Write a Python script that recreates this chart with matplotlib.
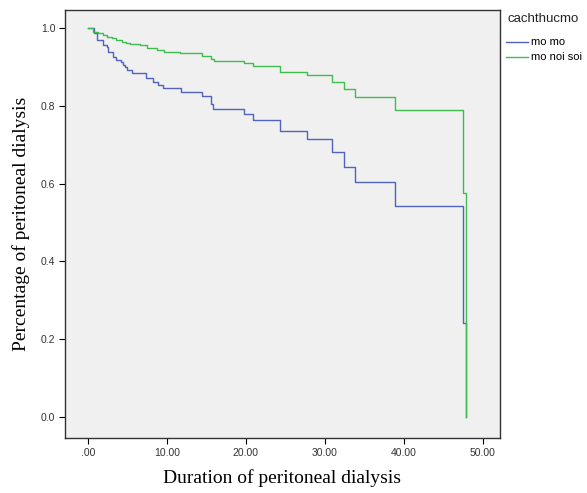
import matplotlib
matplotlib.use('Agg')
import matplotlib.pyplot as plt
from matplotlib.lines import Line2D

# Tiempos de los escalones (meses) y supervivencia tras cada caída
t_momo = [0.0, 0.8, 1.1, 1.9, 2.4, 2.55, 3.15, 3.6, 4.25, 4.45, 4.7, 4.9, 5.65,
          7.4, 8.25, 8.85, 9.55, 11.8, 14.45, 15.6, 15.9, 19.75, 20.9, 24.4,
          27.7, 30.9, 32.4, 33.9, 38.9, 47.5, 47.85]
s_momo = [1.0, 0.986, 0.969, 0.956, 0.952, 0.939, 0.926, 0.918, 0.913, 0.905,
          0.900, 0.893, 0.885, 0.871, 0.862, 0.853, 0.845, 0.836, 0.826, 0.805,
          0.792, 0.779, 0.763, 0.735, 0.714, 0.680, 0.643, 0.605, 0.543, 0.241, 0.0]

t_noisoi = [0.0, 0.7, 1.3, 1.95, 2.4, 3.0, 3.6, 4.3, 4.8, 5.3, 6.6, 7.45, 8.7,
            9.6, 11.7, 14.45, 15.55, 15.95, 19.75, 20.9, 24.4, 27.7, 30.9,
            32.4, 33.9, 38.9, 47.5, 47.85]
s_noisoi = [1.0, 0.990, 0.986, 0.982, 0.978, 0.974, 0.969, 0.965, 0.961, 0.958,
            0.956, 0.948, 0.943, 0.939, 0.935, 0.929, 0.920, 0.914, 0.909,
            0.902, 0.888, 0.878, 0.862, 0.843, 0.823, 0.789, 0.575, 0.0]

grupos = ['mo mo', 'mo noi soi']
colores = ['#4f63bf', '#3fbd4f']

xticks = [0, 10, 20, 30, 40, 50]
xlabels = ['.00', '10.00', '20.00', '30.00', '40.00', '50.00']
yticks = [0.0, 0.2, 0.4, 0.6, 0.8, 1.0]

fig = plt.figure(figsize=(5.87, 4.93), dpi=100)
ax = fig.add_axes([0.1107, 0.1116, 0.741, 0.868])
ax.set_facecolor('#f0f0f0')

ax.step(t_momo, s_momo, where='post', color=colores[0], lw=1.0)
ax.step(t_noisoi, s_noisoi, where='post', color=colores[1], lw=1.0)

ax.set_xlim(-2.9, 52.2)
ax.set_ylim(-0.054, 1.046)
ax.set_xticks(xticks)
ax.set_xticklabels(xlabels)
ax.set_yticks(yticks)
ax.set_yticklabels(['%.1f' % v for v in yticks])
ax.tick_params(labelsize=7.5, labelcolor='#333333', length=4, width=0.8,
               direction='out', pad=3, labelfontfamily='Liberation Sans')
for sp in ax.spines.values():
    sp.set_color('#333333')
    sp.set_linewidth(1.0)

ax.set_xlabel('Duration of peritoneal dialysis', fontsize=14,
              family='Liberation Serif', labelpad=8)
ax.set_ylabel('Percentage of peritoneal dialysis', fontsize=14,
              family='Liberation Serif', labelpad=8)

# Leyenda a la derecha
fig.text(0.864, 0.962, 'cachthucmo', fontsize=9.5, family='Liberation Sans',
         color='#222222', va='center')
handles = [Line2D([], [], color=c, lw=1.0) for c in colores]
fig.legend(handles, grupos, loc='upper left', bbox_to_anchor=(0.862, 0.924),
           frameon=False, handlelength=2.0, handletextpad=0.25,
           labelspacing=0.45, borderaxespad=0, borderpad=0,
           prop={'family': 'Liberation Sans', 'size': 8})

fig.savefig('out.png', dpi=100)
